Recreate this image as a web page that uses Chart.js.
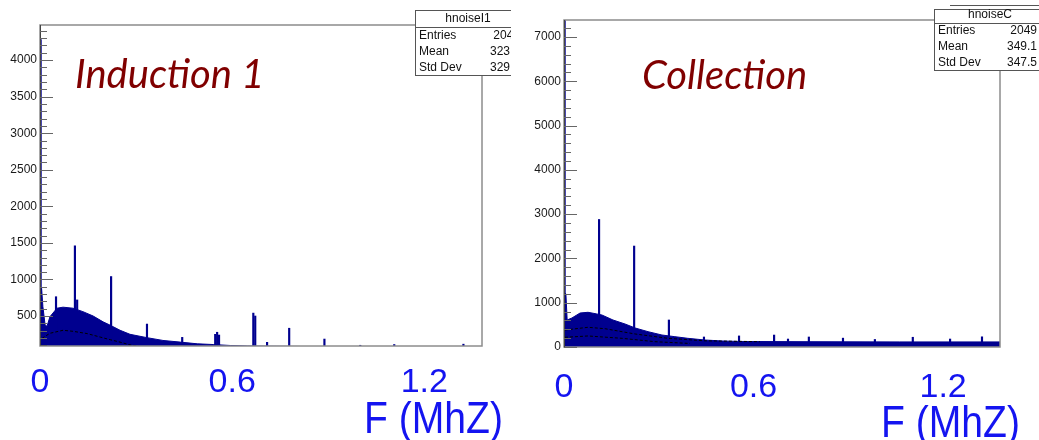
<!DOCTYPE html>
<html>
<head>
<meta charset="utf-8">
<script src="https://cdn.jsdelivr.net/npm/chart.js@4.4.1/dist/chart.umd.min.js"></script>
<style>
  html, body { margin: 0; padding: 0; background: #fff; }
  body { width: 1039px; height: 440px; position: relative; overflow: hidden; }
  #boxL { position: absolute; left: 0; top: 0; width: 511px; height: 440px; }
  #boxR { position: absolute; left: 515px; top: 0; width: 524px; height: 440px; }
</style>
</head>
<body>
<div id="boxL"><canvas id="chartL"></canvas></div>
<div id="boxR"><canvas id="chartR"></canvas></div>
<script>
// tick labels
const freqTicks = [0, 0.6, 1.2];
const yTicksInd = [500, 1000, 1500, 2000, 2500, 3000, 3500, 4000];
const yTicksCol = [0, 1000, 2000, 3000, 4000, 5000, 6000, 7000];

// Induction 1 (MHz, counts)
const indEnvF = [0, 0.005, 0.009, 0.016, 0.022, 0.031, 0.053, 0.072, 0.103, 0.134, 0.166, 0.197, 0.219, 0.25, 0.281, 0.334, 0.384, 0.438, 0.491, 0.541, 0.594, 0.647, 0.72, 0.81, 0.86, 1.38];
const indEnvV = [900, 880, 630, 375, 360, 490, 607, 621, 607, 560, 500, 420, 375, 305, 250, 204, 166, 143, 120, 110, 97, 90, 86, 84, 60, 60];
const indSpikeF = [0.002, 0.05, 0.109, 0.116, 0.222, 0.334, 0.444, 0.547, 0.553, 0.559, 0.666, 0.672, 0.709, 0.778, 0.888, 1.0, 1.106, 1.322];
const indSpikeV = [4280, 764, 1460, 720, 1040, 390, 208, 250, 278, 240, 540, 500, 140, 333, 185, 100, 110, 115];
const indMeanF = [0.006, 0.031, 0.072, 0.103, 0.147, 0.188, 0.219, 0.25, 0.281, 0.31];
const indMeanV = [194, 264, 305, 291, 260, 212, 176, 143, 105, 85];

// Collection
const colEnvF = [0, 0.006, 0.01, 0.025, 0.051, 0.076, 0.104, 0.12, 0.155, 0.193, 0.225, 0.266, 0.31, 0.351, 0.392, 0.446, 0.5, 0.557, 0.747, 1.063, 1.38];
const colEnvV = [1220, 1200, 610, 655, 768, 784, 746, 723, 610, 520, 430, 346, 271, 233, 196, 158, 136, 125, 120, 115, 115];
const colSpikeF = [0.002, 0.111, 0.222, 0.332, 0.443, 0.554, 0.665, 0.709, 0.775, 0.883, 0.984, 1.104, 1.222, 1.323];
const colSpikeV = [7400, 2880, 2280, 610, 226, 250, 270, 180, 226, 200, 170, 220, 180, 230];
const colMeanAF = [0.003, 0.076, 0.13, 0.225, 0.329, 0.446, 0.62];
const colMeanAV = [384, 445, 413, 294, 196, 140, 120];
const colMeanBF = [0.003, 0.076, 0.184, 0.288, 0.399];
const colMeanBV = [219, 249, 196, 120, 80];

// stat boxes
const statInd = ['hnoiseI1', ['Entries', '2049'], ['Mean', '323.4'], ['Std Dev', '329.6']];
const statCol = ['hnoiseC', ['Entries', '2049'], ['Mean', '349.1'], ['Std Dev', '347.5']];

const histBlue = '#00008f';
const labelBlue = '#1414f0';
const handFont = "'Comic Sans MS', 'Liberation Sans', sans-serif";

function pts(fs, vs) {
  return fs.map((f, i) => ({ x: f, y: vs[i] }));
}

/* ROOT style frame, inside ticks, stat box and overlay text */
const rootPad = {
  id: 'rootPad',
  afterDatasetsDraw(chart, args, o) {
    const ctx = chart.ctx, a = chart.chartArea, y = chart.scales.y;
    ctx.save();
    ctx.strokeStyle = '#8c8c8c';
    ctx.lineWidth = 1.5;
    ctx.strokeRect(a.left, a.top, a.right - a.left, a.bottom - a.top);
    ctx.strokeStyle = '#444';
    ctx.lineWidth = 1;
    ctx.beginPath();
    ctx.moveTo(a.left + 0.5, a.top);
    ctx.lineTo(a.left + 0.5, a.bottom);
    ctx.stroke();
    ctx.strokeStyle = '#666';
    for (let v = Math.ceil(y.min / o.minor) * o.minor; v <= y.max; v += o.minor) {
      const py = Math.round(y.getPixelForValue(v)) + 0.5;
      const len = (v % o.major === 0) ? 13 : 7;
      ctx.beginPath();
      ctx.moveTo(a.left, py);
      ctx.lineTo(a.left + len, py);
      ctx.stroke();
    }
    ctx.restore();
  },
  afterDraw(chart, args, o) {
    const ctx = chart.ctx;
    ctx.save();
    // stat box
    const b = o.box;
    if (b.topLine) {
      ctx.strokeStyle = '#555';
      ctx.lineWidth = 1;
      ctx.beginPath();
      ctx.moveTo(b.topLine[0], b.topLine[1] + 0.5);
      ctx.lineTo(b.topLine[2], b.topLine[1] + 0.5);
      ctx.stroke();
    }
    ctx.fillStyle = '#fff';
    ctx.fillRect(b.x, b.y, b.w, b.h);
    ctx.strokeStyle = '#555';
    ctx.lineWidth = 1;
    ctx.strokeRect(b.x + 0.5, b.y + 0.5, b.w, b.h);
    ctx.beginPath();
    ctx.moveTo(b.x, b.sep + 0.5);
    ctx.lineTo(b.x + b.w, b.sep + 0.5);
    ctx.stroke();
    ctx.fillStyle = '#111';
    ctx.font = "12px 'Liberation Sans', Arial, sans-serif";
    ctx.textBaseline = 'middle';
    ctx.textAlign = 'center';
    ctx.fillText(o.stat[0], b.x + b.w / 2, b.rows[0]);
    for (let i = 1; i < o.stat.length; i++) {
      ctx.textAlign = 'left';
      ctx.fillText(o.stat[i][0], b.x + 4, b.rows[i]);
      ctx.textAlign = 'right';
      ctx.fillText(o.stat[i][1], b.valRight, b.rows[i]);
    }
    // pad label
    ctx.fillStyle = '#800000';
    ctx.font = "italic 40px Lato, 'Open Sans', sans-serif";
    ctx.textAlign = 'left';
    ctx.textBaseline = 'alphabetic';
    ctx.fillText(o.name.text, o.name.x, o.name.y);
    // axis name, squeezed to the width of the original
    ctx.fillStyle = labelBlue;
    ctx.font = '44px ' + handFont;
    const w = ctx.measureText('F (MhZ)').width;
    ctx.translate(o.unit.x, o.unit.y);
    ctx.scale(o.unit.w / w, 1);
    ctx.fillText('F (MhZ)', 0, 0);
    ctx.restore();
  }
};

function makeChart(id, d) {
  return new Chart(document.getElementById(id), {
    type: 'line',
    data: {
      datasets: [
        ...d.means.map(m => ({
          data: m, borderColor: '#000', borderWidth: 1, borderDash: [3, 2],
          pointRadius: 0, fill: false, tension: 0
        })),
        {
          type: 'bar', data: d.spikes, backgroundColor: histBlue,
          barThickness: 1.5, grouped: false
        },
        {
          data: d.env, borderColor: histBlue, borderWidth: 1, backgroundColor: histBlue,
          pointRadius: 0, fill: 'origin', tension: 0
        }
      ]
    },
    options: {
      responsive: true,
      maintainAspectRatio: false,
      animation: false,
      layout: { padding: d.pad },
      plugins: {
        legend: { display: false },
        tooltip: { enabled: false },
        rootPad: d.deco
      },
      scales: {
        x: {
          type: 'linear', min: 0, max: 1.38, offset: false,
          grid: { display: false, drawTicks: false },
          border: { display: false },
          afterBuildTicks: s => { s.ticks = freqTicks.map(v => ({ value: v })); },
          afterFit: s => { s.height = d.xHeight; },
          ticks: {
            color: labelBlue, padding: d.xPad, maxRotation: 0, autoSkip: false,
            font: { family: handFont, size: 34 },
            callback: v => String(v)
          }
        },
        y: {
          min: d.yMin, max: d.yMax,
          grid: { display: false, drawTicks: false },
          border: { display: false },
          afterBuildTicks: s => { s.ticks = d.yTicks.map(v => ({ value: v })); },
          afterFit: s => { s.width = d.yWidth; },
          ticks: {
            color: '#1a1a1a', padding: 3,
            font: { family: "'Liberation Sans', Arial, sans-serif", size: 12 },
            callback: v => String(v)
          }
        }
      }
    },
    plugins: [rootPad]
  });
}

makeChart('chartL', {
  env: pts(indEnvF, indEnvV),
  spikes: pts(indSpikeF, indSpikeV),
  means: [pts(indMeanF, indMeanV)],
  yMin: 90, yMax: 4480, yTicks: yTicksInd,
  pad: { top: 25, right: 29, left: 0, bottom: 0 },
  xHeight: 94, xPad: 16, yWidth: 40,
  deco: {
    minor: 100, major: 500,
    stat: statInd,
    box: { x: 415, y: 10, w: 106, h: 65, sep: 27, rows: [19, 36, 52, 68], valRight: 520 },
    name: { text: 'Induction 1', x: 75, y: 88 },
    unit: { x: 364, y: 433, w: 139 }
  }
});

makeChart('chartR', {
  env: pts(colEnvF, colEnvV),
  spikes: pts(colSpikeF, colSpikeV),
  means: [pts(colMeanAF, colMeanAV), pts(colMeanBF, colMeanBV)],
  yMin: 0, yMax: 7385, yTicks: yTicksCol,
  pad: { top: 20, right: 39, left: 0, bottom: 0 },
  xHeight: 93, xPad: 20, yWidth: 49,
  deco: {
    minor: 200, major: 1000,
    stat: statCol,
    box: { x: 419, y: 9, w: 112, h: 61, sep: 23, rows: [15, 31, 47, 63], valRight: 522, topLine: [435, 5, 524] },
    name: { text: 'Collection', x: 127, y: 89 },
    unit: { x: 366, y: 437, w: 139 }
  }
});
</script>
</body>
</html>
